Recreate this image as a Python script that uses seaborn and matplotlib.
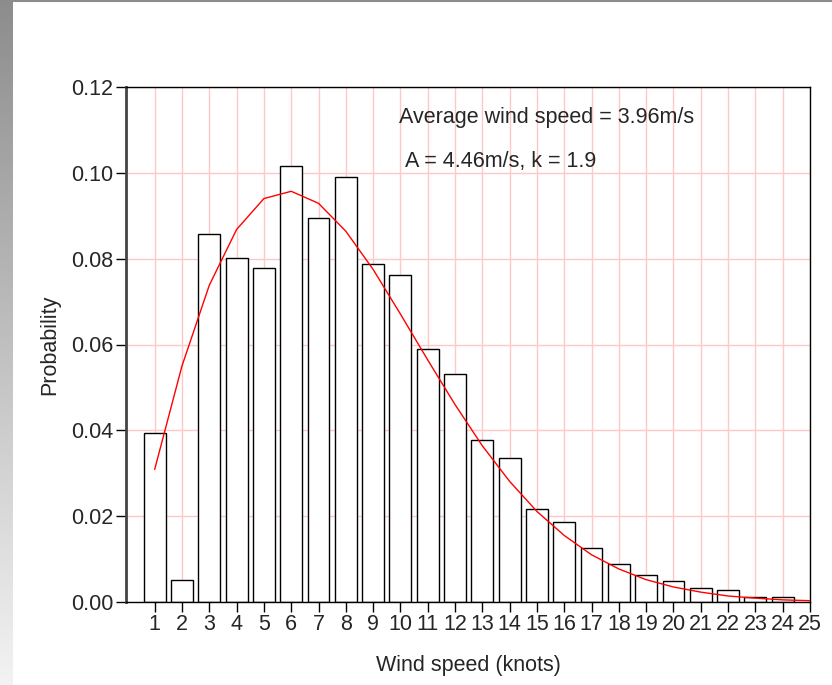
import seaborn as sns
import pandas as pd
import numpy as np
import matplotlib.pyplot as plt

speed = [1, 2, 3, 4, 5, 6, 7, 8, 9, 10, 11, 12, 13, 14, 15, 16, 17, 18, 19, 20, 21, 22, 23, 24]
prob = [0.0394, 0.0052, 0.0857, 0.0801, 0.0778, 0.1016, 0.0895, 0.0990, 0.0788, 0.0762,
        0.0589, 0.0531, 0.0377, 0.0335, 0.0217, 0.0186, 0.0125, 0.0088, 0.0063, 0.0048,
        0.0032, 0.0027, 0.0012, 0.0012]
fit_x = [1, 2, 3, 4, 5, 6, 7, 8, 9, 10, 11, 12, 13, 14, 15, 16, 17, 18, 19, 20, 21, 22, 23, 24, 25]
fit_y = [0.0309, 0.0550, 0.0738, 0.0868, 0.0940, 0.0957, 0.0929, 0.0864, 0.0775, 0.0671,
         0.0564, 0.0460, 0.0364, 0.0281, 0.0211, 0.0155, 0.0110, 0.0077, 0.0052, 0.0035,
         0.0023, 0.0014, 0.0009, 0.0005, 0.0003]
yticks = [0.00, 0.02, 0.04, 0.06, 0.08, 0.10, 0.12]

df = pd.DataFrame({'speed': speed, 'prob': prob})
fit = pd.DataFrame({'speed': fit_x, 'prob': fit_y})

sns.set_style("white")
plt.rcParams['font.family'] = ['Liberation Sans', 'DejaVu Sans']
FS = 15.5

fig = plt.figure(figsize=(8.32, 6.85), dpi=100)

# grey gradient strip on the left + thin top line
strip = fig.add_axes([0, 0, 13 / 832, 1])
grad = np.linspace(0.55, 0.95, 256).reshape(-1, 1)
strip.imshow(grad, cmap='gray', vmin=0, vmax=1, aspect='auto', extent=[0, 1, 1, 0])
strip.set_axis_off()
fig.add_artist(plt.Line2D([13 / 832, 1], [0.999, 0.999], color='#8c8c8c', lw=1.5,
                          transform=fig.transFigure))

ax = fig.add_axes([126 / 832, 1 - 602 / 685, (810 - 126) / 832, (602 - 87) / 685])

sns.barplot(data=df, x='speed', y='prob', native_scale=True, width=0.8,
            color='white', edgecolor='black', linewidth=1, ax=ax, zorder=2)
sns.lineplot(data=fit, x='speed', y='prob', color='red', linewidth=1, ax=ax, zorder=3)

ax.set_xlim(-0.05, 25)
ax.set_ylim(0, 0.12)
ax.set_xticks(fit_x)
ax.set_xticklabels([str(v) for v in fit_x], fontsize=FS)
ax.set_yticks(yticks)
ax.set_yticklabels(['%.2f' % v for v in yticks], fontsize=FS)
ax.grid(True, color='#ffc8c8', linewidth=1, zorder=0)
ax.set_axisbelow(True)
ax.tick_params(axis='both', direction='out', length=7, width=1, color='black',
               bottom=True, left=True, pad=2)

for s in ax.spines.values():
    s.set_color('black')
    s.set_linewidth(1)
ax.spines['left'].set_color('#444444')
ax.spines['left'].set_linewidth(2)

ax.set_xlabel('Wind speed (knots)', fontsize=FS, labelpad=14)
ax.set_ylabel('Probability', fontsize=FS, labelpad=8)

ax.text(9.95, 0.1130, 'Average wind speed = 3.96m/s', fontsize=FS, va='center', ha='left')
ax.text(10.15, 0.1027, 'A = 4.46m/s, k = 1.9', fontsize=FS, va='center', ha='left')

plt.savefig('out.png', dpi=100)
